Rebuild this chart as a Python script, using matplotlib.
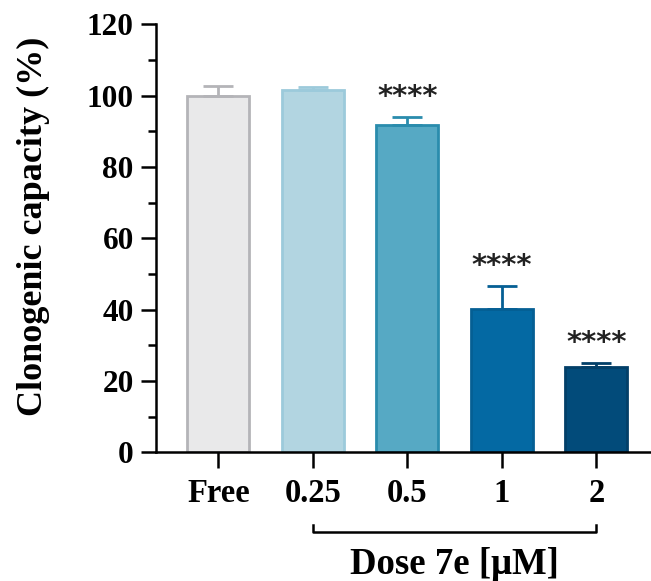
import matplotlib.pyplot as plt
from matplotlib.ticker import MultipleLocator

# data
doses = ['Free', '0.25', '0.5', '1', '2']
capacity = [100.0, 101.7, 91.9, 40.3, 24.0]
sd = [2.7, 0.6, 2.0, 6.4, 1.1]
signif = ['', '', '****', '****', '****']

fills = ['#e9e9ea', '#b2d5e1', '#56a9c4', '#0469a3', '#024b7a']
edges = ['#b4b4b8', '#9ccadb', '#2a8cad', '#055f94', '#023f68']

plt.rcParams['font.family'] = 'Liberation Serif'
plt.rcParams['font.weight'] = 'bold'
plt.rcParams['axes.labelweight'] = 'bold'

fig = plt.figure(figsize=(6.51, 5.81), dpi=100)
ax = fig.add_axes([0.2396, 0.2212, 0.7604, 0.737])

x = list(range(len(doses)))
ax.bar(x, capacity, width=0.656, color=fills, edgecolor=edges, linewidth=2)

# upper error bars only, one colour per bar
for xi, v, e, c in zip(x, capacity, sd, edges):
    ax.errorbar(xi, v, yerr=[[0], [e]], fmt='none', ecolor=c, elinewidth=2,
                capsize=11, capthick=2)

for xi, v, e, s in zip(x, capacity, sd, signif):
    if s:
        ax.text(xi, v + e + 5.6, s, ha='center', va='center', fontsize=21,
                family='DejaVu Sans', weight='bold', color='#222222')

ax.set_xlim(-0.661, 4.577)
ax.set_ylim(0, 120)
ax.yaxis.set_major_locator(MultipleLocator(20))
ax.yaxis.set_minor_locator(MultipleLocator(10))
ax.set_xticks(x)
ax.set_xticklabels(doses)

for side in ['top', 'right']:
    ax.spines[side].set_visible(False)
for side in ['left', 'bottom']:
    ax.spines[side].set_linewidth(1.8)

ax.tick_params(axis='both', which='major', width=1.8)
ax.tick_params(axis='y', which='major', length=11, pad=5, labelsize=22.5)
ax.tick_params(axis='y', which='minor', length=6, width=1.8)
ax.tick_params(axis='x', which='major', length=11.5, pad=7, labelsize=23.5)

ax.set_ylabel('Clonogenic capacity (%)', fontsize=26)
ax.yaxis.set_label_coords(-0.214, 0.529)

# bracket under dose groups
ax.plot([1, 1, 4, 4], [-20.3, -22.2, -22.2, -20.3], color='black', lw=1.8,
        clip_on=False)
ax.text(2.5, -31.5, 'Dose 7e [\u03bcM]', ha='center', va='center', fontsize=26.5)

fig.savefig('out.png', dpi=100)
